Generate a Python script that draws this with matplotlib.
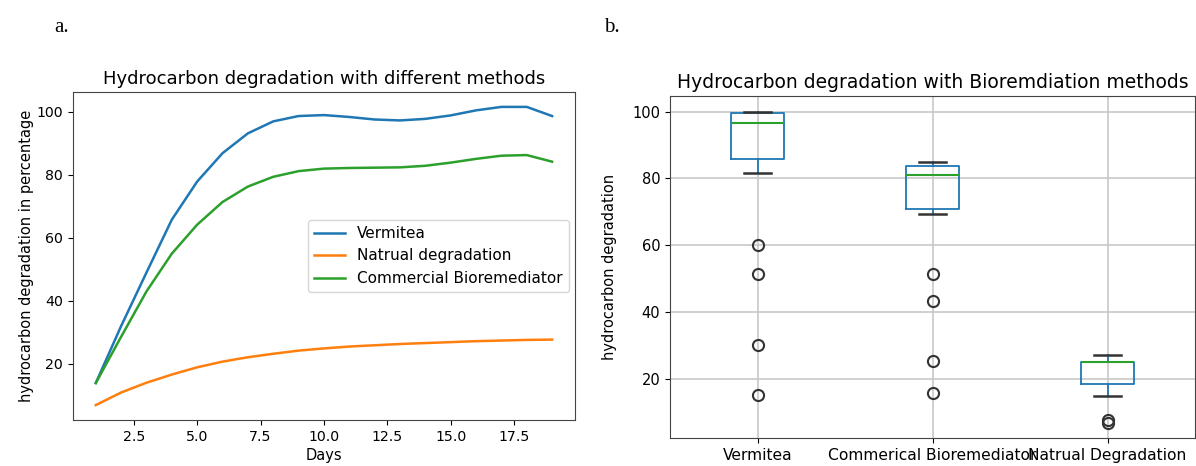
import matplotlib

matplotlib.use("Agg")
from matplotlib import pyplot

# panel a: degradation per day
days = list(range(1, 20))
vermitea = [13.9, 32.0, 49.0, 65.8, 77.9, 86.9, 93.2, 97.0, 98.7, 99.0, 98.4,
            97.6, 97.3, 97.8, 98.9, 100.5, 101.6, 101.6, 98.7]
natural = [6.9, 10.9, 14.0, 16.6, 18.9, 20.7, 22.1, 23.2, 24.2, 24.9, 25.5,
           25.9, 26.3, 26.6, 26.9, 27.2, 27.4, 27.6, 27.7]
commercial = [13.9, 28.6, 43.0, 55.0, 64.2, 71.4, 76.3, 79.4, 81.2, 82.0, 82.2,
              82.3, 82.4, 82.9, 83.9, 85.1, 86.1, 86.3, 84.2]

# panel b: box statistics
box_names = ["Vermitea", "Commerical Bioremediator", "Natrual Degradation"]
box_whislo = [81.7, 69.4, 15.1]
box_q1 = [85.9, 70.8, 18.7]
box_med = [96.7, 81.0, 25.1]
box_q3 = [99.6, 83.8, 25.3]
box_whishi = [100.0, 85.0, 27.3]
box_fliers = [[60.1, 51.4, 30.2, 15.2], [51.5, 43.5, 25.6, 16.0], [7.8, 7.0]]


def main():
    fig = pyplot.figure(figsize=(11.96, 4.66), dpi=100)

    ax1 = fig.add_axes([0.0610, 0.0987, 0.4197, 0.7039])
    ax1.plot(days, vermitea, color="#1f77b4", lw=1.8, label="Vermitea")
    ax1.plot(days, natural, color="#ff7f0e", lw=1.8, label="Natrual degradation")
    ax1.plot(days, commercial, color="#2ca02c", lw=1.8,
             label="Commercial Bioremediator")
    ax1.set_title("Hydrocarbon degradation with different methods", fontsize=13)
    ax1.set_xlabel("Days", fontsize=10.5, labelpad=3)
    ax1.set_ylabel("hydrocarbon degradation in percentage", fontsize=10.5,
                   labelpad=2)
    ax1.tick_params(labelsize=10.2)
    ax1.legend(loc="center right", fontsize=11, handlelength=2.0,
               borderaxespad=0.4)

    ax2 = fig.add_axes([0.5602, 0.0594, 0.4390, 0.7346])
    stats = []
    for i, name in enumerate(box_names):
        stats.append(dict(label=name, whislo=box_whislo[i], q1=box_q1[i],
                          med=box_med[i], q3=box_q3[i], whishi=box_whishi[i],
                          fliers=box_fliers[i]))
    ax2.bxp(
        stats,
        widths=0.3,
        boxprops=dict(color="#1f77b4", lw=1.3),
        whiskerprops=dict(color="#1f77b4", lw=1.3),
        medianprops=dict(color="#2ca02c", lw=1.5),
        capprops=dict(color="#333333", lw=1.8),
        flierprops=dict(marker="o", markerfacecolor="none",
                        markeredgecolor="#333333", markersize=8, mew=1.5),
    )
    ax2.grid(True, color="#c8c8c8", lw=1.2)
    ax2.set_axisbelow(True)
    ax2.set_title("Hydrocarbon degradation with Bioremdiation methods",
                  fontsize=13.5)
    ax2.set_ylabel("hydrocarbon degradation", fontsize=10.5, labelpad=11)
    ax2.tick_params(axis="y", labelsize=10.5)
    ax2.tick_params(axis="x", labelsize=11.2)

    for ax in (ax1, ax2):
        for spine in ax.spines.values():
            spine.set_color("#444444")

    fig.text(62 / 1196, 1 - 28 / 466, "a.", family="Liberation Serif",
             fontsize=15, ha="center", va="center")
    fig.text(612 / 1196, 1 - 28 / 466, "b.", family="Liberation Serif",
             fontsize=15, ha="center", va="center")

    fig.savefig("out.png", dpi=100)


if __name__ == "__main__":
    main()
